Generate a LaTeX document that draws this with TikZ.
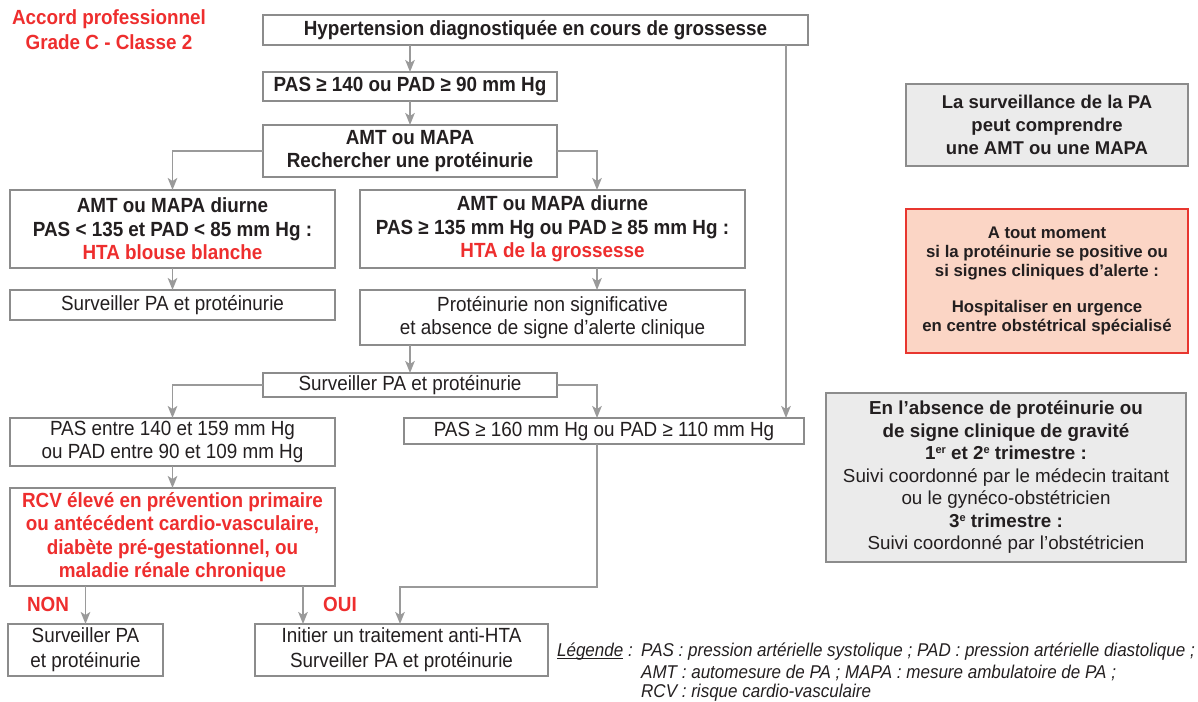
\documentclass[tikz,border=0pt]{standalone}
\usepackage{fontspec}
\setmainfont{Liberation Sans}
\newfontfamily\cond[FakeStretch=0.92]{Liberation Sans}
\usetikzlibrary{arrows.meta}
\definecolor{arrowgray}{HTML}{9A9A9A}
\definecolor{boxgray}{HTML}{8C8C8C}
\definecolor{txt}{HTML}{231F20}
\definecolor{redtxt}{HTML}{EE2E2E}
\definecolor{salmon}{HTML}{FBD5C5}
\definecolor{redborder}{HTML}{E8362F}
\definecolor{lightgray}{HTML}{EBEBEB}
\newcommand{\flowfont}{\cond\fontsize{20.5}{23.5}\selectfont}
\newcommand{\myul}[1]{\setbox0\hbox{#1}\rlap{\rule[-2.2pt]{\wd0}{0.9pt}}#1}
\newcommand{\mysup}[1]{\raisebox{0.6ex}{\fontsize{11}{11}\selectfont #1}}
\begin{document}
\begin{tikzpicture}[x=1pt,y=-1pt,
  flow/.style={draw=boxgray, line width=1.4pt, fill=white, inner sep=0pt, outer sep=0pt, align=center, font=\flowfont, text=txt},
  sidebox/.style={draw=boxgray, line width=1.4pt, fill=lightgray, inner sep=0pt, outer sep=0pt, align=center, text=txt},
  alertbox/.style={draw=redborder, line width=1.8pt, fill=salmon, inner sep=0pt, outer sep=0pt, align=center, text=txt},
  arr/.style={draw=arrowgray, line width=1.8pt, -{Stealth[length=12pt,width=9.5pt,inset=3pt]}},
  lbl/.style={font=\flowfont\bfseries, text=redtxt, inner sep=0pt},
  legtxt/.style={font=\cond\fontsize{18.5}{20.5}\selectfont\itshape, text=txt, inner sep=0pt, anchor=west}
]
\useasboundingbox (0,0) rectangle (1198,701);

% title
\node[font=\cond\fontsize{20.5}{25}\selectfont\bfseries, text=redtxt, align=center, inner sep=0pt] (title) at (109,29.5) {Accord professionnel\\Grade C - Classe 2};

% flowchart boxes
\node[flow, font=\flowfont\bfseries, minimum width=545, minimum height=30] (b1) at (535.5,30) {Hypertension diagnostiquée en cours de grossesse};
\node[flow, font=\flowfont\bfseries, minimum width=294, minimum height=29] (b2) at (410,86.5) {PAS ≥ 140 ou PAD ≥ 90 mm Hg};
\node[flow, font=\flowfont\bfseries, minimum width=294, minimum height=52] (b3) at (410,151) {AMT ou MAPA\\Rechercher une protéinurie};
\node[flow, font=\flowfont\bfseries, minimum width=325, minimum height=78] (b4) at (172.5,229) {AMT ou MAPA diurne\\PAS < 135 et PAD < 85 mm Hg :\\\textcolor{redtxt}{HTA blouse blanche}};
\node[flow, font=\flowfont\bfseries, minimum width=385, minimum height=78] (b5) at (552.5,229) {AMT ou MAPA diurne\\PAS ≥ 135 mm Hg ou PAD ≥ 85 mm Hg :\\\textcolor{redtxt}{HTA de la grossesse}};
\node[flow, minimum width=325, minimum height=30] (b6) at (172.5,305) {Surveiller PA et protéinurie};
\node[flow, minimum width=385, minimum height=55] (b7) at (552.5,317.5) {Protéinurie non significative\\et absence de signe d’alerte clinique};
\node[flow, minimum width=294, minimum height=24] (b8) at (410,385) {Surveiller PA et protéinurie};
\node[flow, minimum width=325, minimum height=48] (b9) at (172.5,442) {PAS entre 140 et 159 mm Hg\\ou PAD entre 90 et 109 mm Hg};
\node[flow, minimum width=400, minimum height=26] (b10) at (604,431) {PAS ≥ 160 mm Hg ou PAD ≥ 110 mm Hg};
\node[flow, font=\flowfont\bfseries, text=redtxt, minimum width=325, minimum height=98] (b11) at (172.5,537) {RCV élevé en prévention primaire\\ou antécédent cardio-vasculaire,\\diabète pré-gestationnel, ou\\maladie rénale chronique};
\node[flow, font=\cond\fontsize{20.5}{25}\selectfont, minimum width=155, minimum height=52] (b12) at (85.5,650) {Surveiller PA\\et protéinurie};
\node[flow, font=\cond\fontsize{20.5}{25}\selectfont, minimum width=293, minimum height=52] (b13) at (401.5,650) {Initier un traitement anti-HTA\\Surveiller PA et protéinurie};

% side boxes
\node[sidebox, font=\fontsize{18.5}{23}\selectfont\bfseries, minimum width=282, minimum height=82] (r1) at (1047,125) {La surveillance de la PA\\peut comprendre\\une AMT ou une MAPA};
\node[alertbox, font=\fontsize{16.8}{19}\selectfont\bfseries, minimum width=282, minimum height=144] (r2) at (1047,281) {A tout moment\\si la protéinurie se positive ou\\si signes cliniques d’alerte :\\[17pt]Hospitaliser en urgence\\en centre obstétrical spécialisé};
\node[sidebox, font=\fontsize{18.8}{22.5}\selectfont, minimum width=360, minimum height=169] (r3) at (1006,477.5) {\textbf{En l’absence de protéinurie ou}\\\textbf{de signe clinique de gravité}\\\textbf{1\mysup{er} et 2\mysup{e} trimestre :}\\Suivi coordonné par le médecin traitant\\ou le gynéco-obstétricien\\\textbf{3\mysup{e} trimestre :}\\Suivi coordonné par l’obstétricien};

% helper coordinates
\coordinate (x597) at (597,0);
\coordinate (x786) at (786,0);
\coordinate (x303) at (303,0);
\coordinate (j1) at (400,587);

% connectors
\draw[arr] (b1.south -| b2.north) -- (b2.north);
\draw[arr] (b2.south) -- (b3.north);
\draw[arr] (b3.west) -| (b4.north);
\draw[arr] (b3.east) -| (b5.north -| x597);
\draw[arr] (b4.south) -- (b6.north);
\draw[arr] (b5.south -| x597) -- (b7.north -| x597);
\draw[arr] (b7.south -| b8.north) -- (b8.north);
\draw[arr] (b8.west) -| (b9.north);
\draw[arr] (b8.east) -| (b10.north -| x597);
\draw[arr] (b1.south -| x786) -- (b10.north -| x786);
\draw[arr] (b9.south) -- (b11.north);
\draw[arr] (b11.south -| b12.north) -- (b12.north);
\draw[arr] (b11.south -| x303) -- (b13.north -| x303);
\draw[arr] (b10.south -| x597) |- (j1) -- (b13.north -| j1);

% labels
\node[lbl] (non) at (48,604) {NON};
\node[lbl] (oui) at (340,604) {OUI};

% legend
\node[legtxt] (lg1) at (641,652) {PAS : pression artérielle systolique ; PAD : pression artérielle diastolique ;};
\node[legtxt] (lg2) at (641,673) {AMT : automesure de PA ; MAPA : mesure ambulatoire de PA ;};
\node[legtxt] (lg3) at (641,693) {RCV : risque cardio-vasculaire};
\node[font=\cond\fontsize{18.5}{20.5}\selectfont\itshape, text=txt, inner sep=0pt, anchor=base east] (legkey) at ([xshift=-8pt]lg1.base west) {\myul{Légende} :};
\end{tikzpicture}
\end{document}
